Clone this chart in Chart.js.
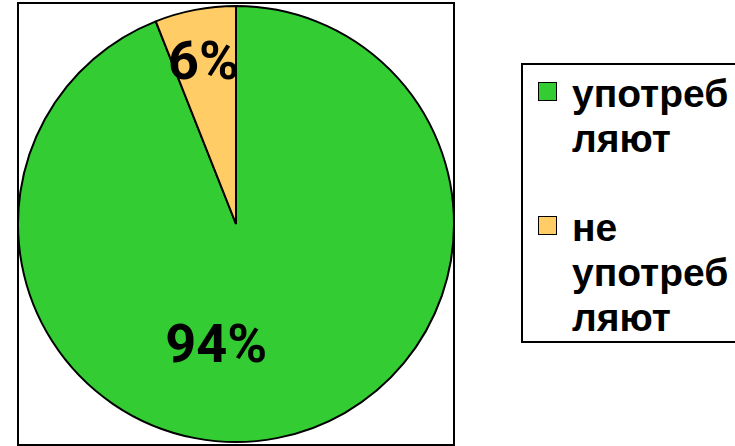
<!DOCTYPE html>
<html>
<head>
<meta charset="utf-8">
<script src="https://cdn.jsdelivr.net/npm/chart.js@4"></script>
<style>
  html, body { margin: 0; padding: 0; background: #fff; }
  #wrap { position: relative; width: 735px; height: 446px; overflow: hidden; }
  #c { position: absolute; left: 0; top: 0; }
  #legend { position: absolute; left: 521px; top: 63px; width: 240px; height: 280px;
            border: 2px solid #000; box-sizing: border-box; background: #fff;
            font-family: "Liberation Sans", Arial, sans-serif; font-weight: bold; font-size: 39px; color: #000; }
  .item { position: absolute; left: 0; }
  .sw { position: absolute; left: 15px; width: 17px; height: 17px; border: 1.5px solid #000; }
  .txt { position: absolute; left: 49px; line-height: 45px; white-space: nowrap; }
</style>
</head>
<body>
<div id="wrap">
  <canvas id="c" width="735" height="446"></canvas>
  <div id="legend"></div>
</div>
<script>
const categories = ["употребляют", "не употребляют"];
const legendLines = [["употреб", "ляют"], ["не", "употреб", "ляют"]];
const values = [94, 6];
const colors = ["#33CC33", "#FFCC66"];

// legend (HTML)
const legendTops = [6, 140];
const lg = document.getElementById('legend');
categories.forEach((cat, i) => {
  const it = document.createElement('div');
  it.className = 'item';
  it.style.top = legendTops[i] + 'px';
  it.title = cat;
  const sw = document.createElement('div');
  sw.className = 'sw';
  sw.style.background = colors[i];
  sw.style.top = '11px';
  const tx = document.createElement('div');
  tx.className = 'txt';
  tx.innerHTML = legendLines[i].join('<br>');
  it.appendChild(sw);
  it.appendChild(tx);
  lg.appendChild(it);
});

const framePlugin = {
  id: 'frame',
  beforeDraw(chart) {
    const ctx = chart.ctx;
    ctx.save();
    ctx.strokeStyle = '#000';
    ctx.lineWidth = 2;
    ctx.strokeRect(18, 3, 436, 442);
    ctx.restore();
  }
};

const labelPlugin = {
  id: 'pctLabels',
  afterDatasetsDraw(chart, args, opts) {
    const ctx = chart.ctx;
    const meta = chart.getDatasetMeta(0);
    const total = values.reduce((a, b) => a + b, 0);
    ctx.save();
    ctx.font = opts.font;
    ctx.fillStyle = '#000';
    ctx.textAlign = 'center';
    ctx.textBaseline = 'middle';
    meta.data.forEach((arc, i) => {
      const p = arc.getProps(['x', 'y', 'startAngle', 'endAngle', 'outerRadius'], true);
      const mid = (p.startAngle + p.endAngle) / 2;
      const r = p.outerRadius * opts.radiusFrac[i];
      const off = opts.offsets[i];
      const x = p.x + Math.cos(mid) * r + off[0];
      const y = p.y + Math.sin(mid) * r + off[1];
      ctx.fillText(Math.round(values[i] / total * 100) + '%', x, y);
    });
    ctx.restore();
  }
};

new Chart(document.getElementById('c'), {
  type: 'pie',
  data: {
    labels: categories,
    datasets: [{
      data: values,
      backgroundColor: colors,
      borderColor: '#000',
      borderWidth: 2
    }]
  },
  options: {
    responsive: false,
    animation: false,
    layout: { padding: { left: 17, right: 280, top: 5, bottom: 3 } },
    plugins: {
      legend: { display: false },
      tooltip: { enabled: false },
      pctLabels: {
        font: 'bold 54px Roboto, "Open Sans", sans-serif',
        radiusFrac: [0.57, 0.75],
        offsets: [[-43, 2], [-2, 2]]
      }
    }
  },
  plugins: [framePlugin, labelPlugin]
});
</script>
</body>
</html>
